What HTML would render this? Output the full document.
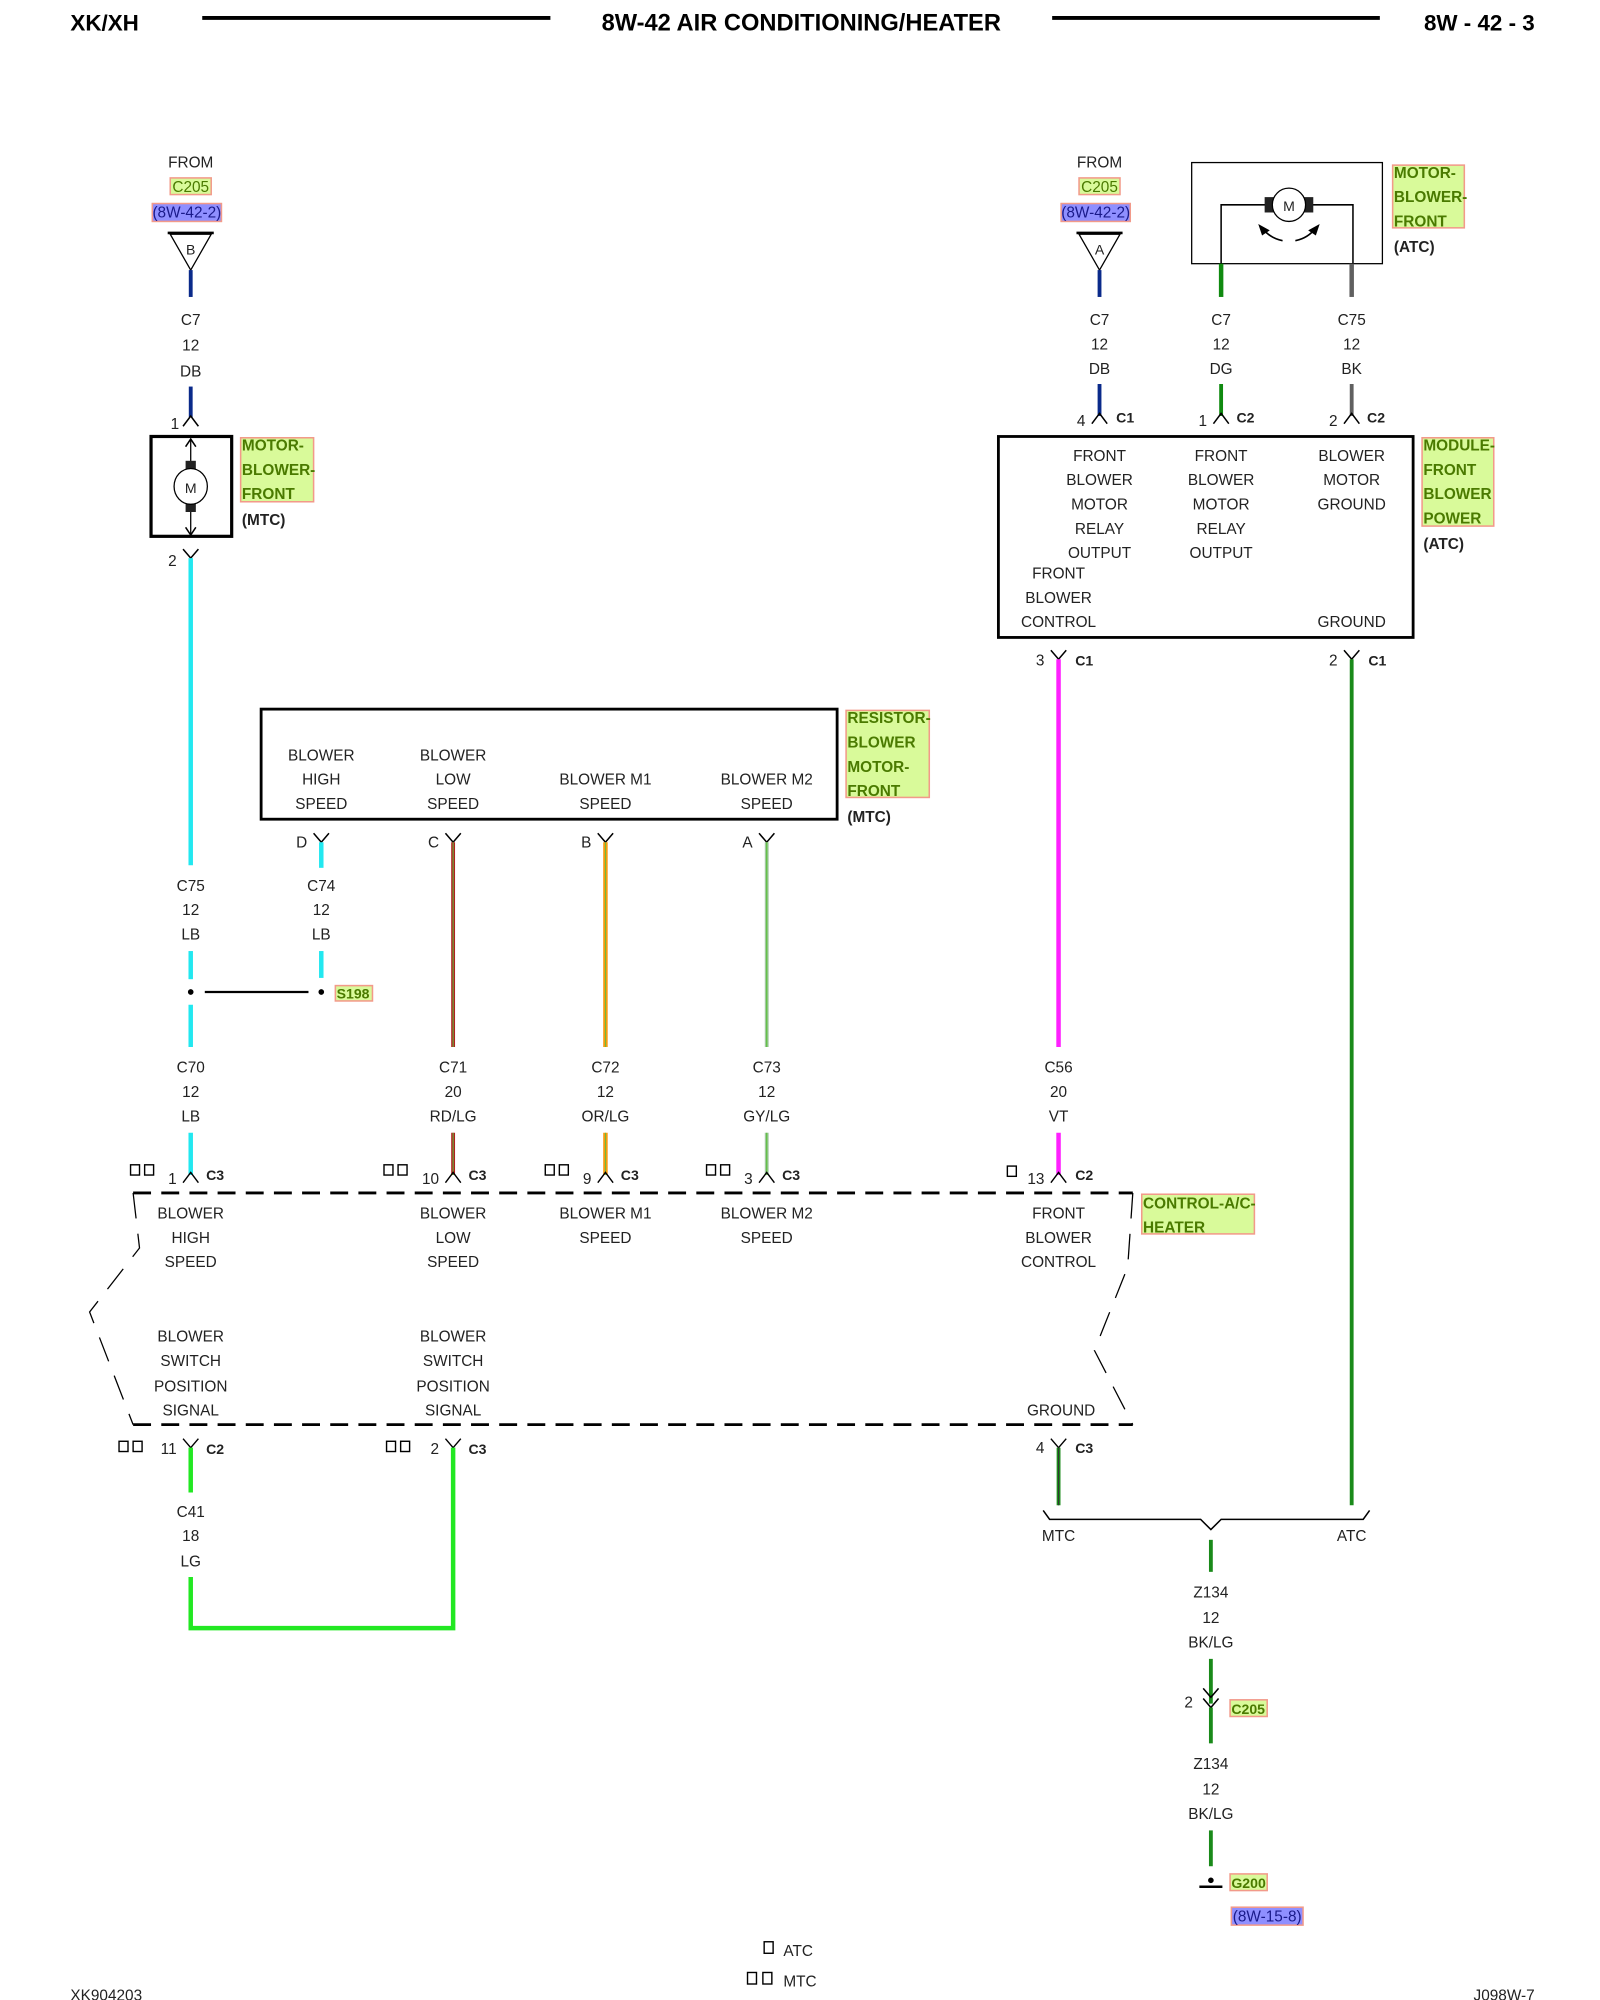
<!DOCTYPE html>
<html><head><meta charset="utf-8"><style>
html,body{margin:0;padding:0;background:#fff}
svg{display:block}
text{font-family:"Liberation Sans",Arial,sans-serif;font-size:12px;fill:#222}
.b{font-weight:bold}
.c{text-anchor:middle}
.r{text-anchor:end}
.hl{fill:#d9fa9a;stroke:#f29a8a;stroke-width:1.2}
.hb{fill:#8f8fff;stroke:#f29a8a;stroke-width:1.2}
.gt{fill:#4a7a00;font-weight:bold}
.bt{fill:#1a1a8a}
.k{fill:none;stroke:#000;stroke-width:1.2}
</style></head><body>
<svg width="1600" height="2000" viewBox="0 0 1250 1562.5" xmlns="http://www.w3.org/2000/svg">
<!-- header -->
<text x="55" y="24" class="b" style="font-size:17.5px;fill:#000">XK/XH</text>
<line x1="158" y1="14" x2="430" y2="14" stroke="#000" stroke-width="3"/>
<text x="626" y="24" class="b c" style="font-size:18.5px;fill:#000">8W-42 AIR CONDITIONING/HEATER</text>
<line x1="822" y1="14" x2="1078" y2="14" stroke="#000" stroke-width="3"/>
<text x="1199" y="24" class="b r" style="font-size:17.5px;fill:#000">8W - 42 - 3</text>

<!-- LEFT TOP -->
<text x="149" y="131" class="c">FROM</text>
<rect x="133" y="139" width="32" height="13" class="hl"/><text x="149" y="150" class="c gt" style="font-weight:normal">C205</text>
<rect x="119" y="159" width="54" height="14" class="hb"/><text x="146" y="170" class="c bt">(8W-42-2)</text>
<line x1="131" y1="182" x2="167" y2="182" stroke="#000" stroke-width="2"/>
<polygon points="133,183 165,183 149,211" fill="none" stroke="#000"/>
<text x="149" y="199" class="c" style="font-size:11px">B</text>
<line x1="149" y1="211" x2="149" y2="232" stroke="#0a2a8a" stroke-width="3"/>
<text x="149" y="254" class="c">C7</text><text x="149" y="274" class="c">12</text><text x="149" y="294" class="c">DB</text>
<line x1="149" y1="302" x2="149" y2="326" stroke="#0a2a8a" stroke-width="3"/>
<text x="140" y="335" class="r">1</text><polyline points="143,333 149,325 155,333" class="k"/>
<rect x="118" y="341" width="63" height="78" fill="none" stroke="#000" stroke-width="2.5"/>
<line x1="149" y1="343" x2="149" y2="418" stroke="#000"/>
<polyline points="145,349 149,343 153,349" class="k"/><polyline points="145,412 149,418 153,412" class="k"/>
<rect x="145" y="360" width="8" height="7" fill="#222"/><rect x="145" y="393" width="8" height="7" fill="#222"/>
<ellipse cx="149" cy="380" rx="13" ry="14" fill="#fff" stroke="#000"/>
<text x="149" y="385" class="c" style="font-size:11px">M</text>
<rect x="188" y="342" width="57" height="50" class="hl"/>
<text x="189" y="352" class="gt">MOTOR-</text><text x="189" y="371" class="gt">BLOWER-</text><text x="189" y="390" class="gt">FRONT</text>
<text x="189" y="410" class="b">(MTC)</text>
<text x="138" y="442" class="r">2</text><polyline points="143,429 149,436 155,429" class="k"/>
<line x1="149" y1="436" x2="149" y2="676" stroke="#22e8f0" stroke-width="3.5"/>
<text x="149" y="696" class="c">C75</text><text x="149" y="715" class="c">12</text><text x="149" y="734" class="c">LB</text>
<line x1="149" y1="743" x2="149" y2="765" stroke="#22e8f0" stroke-width="3.5"/>
<circle cx="149" cy="775" r="2.2" fill="#000"/>
<line x1="160" y1="775" x2="241" y2="775" stroke="#000" stroke-width="1.8"/>
<circle cx="251" cy="775" r="2.2" fill="#000"/>
<rect x="262" y="770" width="29" height="12" class="hl"/><text x="263" y="780" class="gt" style="font-size:11px">S198</text>
<line x1="149" y1="785" x2="149" y2="818" stroke="#22e8f0" stroke-width="3.5"/>
<text x="149" y="838" class="c">C70</text><text x="149" y="857" class="c">12</text><text x="149" y="876" class="c">LB</text>
<line x1="149" y1="885" x2="149" y2="918" stroke="#22e8f0" stroke-width="3.5"/>

<!-- RESISTOR -->
<rect x="204" y="554" width="450" height="86" fill="none" stroke="#000" stroke-width="2.2"/>
<text x="251" y="594" class="c">BLOWER</text><text x="251" y="613" class="c">HIGH</text><text x="251" y="632" class="c">SPEED</text>
<text x="354" y="594" class="c">BLOWER</text><text x="354" y="613" class="c">LOW</text><text x="354" y="632" class="c">SPEED</text>
<text x="473" y="613" class="c">BLOWER M1</text><text x="473" y="632" class="c">SPEED</text>
<text x="599" y="613" class="c">BLOWER M2</text><text x="599" y="632" class="c">SPEED</text>
<rect x="661" y="555" width="65" height="68" class="hl"/>
<text x="662" y="565" class="gt">RESISTOR-</text><text x="662" y="584" class="gt">BLOWER</text><text x="662" y="603" class="gt">MOTOR-</text><text x="662" y="622" class="gt">FRONT</text>
<text x="662" y="642" class="b">(MTC)</text>
<text x="240" y="662" class="r">D</text><polyline points="245,651 251,658 257,651" class="k"/>
<text x="343" y="662" class="r">C</text><polyline points="348,651 354,658 360,651" class="k"/>
<text x="462" y="662" class="r">B</text><polyline points="467,651 473,658 479,651" class="k"/>
<text x="588" y="662" class="r">A</text><polyline points="593,651 599,658 605,651" class="k"/>
<line x1="251" y1="658" x2="251" y2="678" stroke="#22e8f0" stroke-width="3.5"/>
<text x="251" y="696" class="c">C74</text><text x="251" y="715" class="c">12</text><text x="251" y="734" class="c">LB</text>
<line x1="251" y1="743" x2="251" y2="764" stroke="#22e8f0" stroke-width="3.5"/>
<line x1="354" y1="658" x2="354" y2="818" stroke="#b02020" stroke-width="3"/><line x1="354" y1="658" x2="354" y2="818" stroke="#60c040" stroke-width="0.8"/>
<line x1="473" y1="658" x2="473" y2="818" stroke="#f59a10" stroke-width="3.5"/><line x1="473" y1="658" x2="473" y2="818" stroke="#60c040" stroke-width="0.7"/>
<line x1="599" y1="658" x2="599" y2="818" stroke="#a0c8a0" stroke-width="3"/><line x1="599" y1="658" x2="599" y2="818" stroke="#60c040" stroke-width="1"/>
<text x="354" y="838" class="c">C71</text><text x="354" y="857" class="c">20</text><text x="354" y="876" class="c">RD/LG</text>
<text x="473" y="838" class="c">C72</text><text x="473" y="857" class="c">12</text><text x="473" y="876" class="c">OR/LG</text>
<text x="599" y="838" class="c">C73</text><text x="599" y="857" class="c">12</text><text x="599" y="876" class="c">GY/LG</text>
<line x1="354" y1="885" x2="354" y2="918" stroke="#b02020" stroke-width="3"/><line x1="354" y1="885" x2="354" y2="918" stroke="#60c040" stroke-width="0.8"/>
<line x1="473" y1="885" x2="473" y2="918" stroke="#f59a10" stroke-width="3.5"/><line x1="473" y1="885" x2="473" y2="918" stroke="#60c040" stroke-width="0.7"/>
<line x1="599" y1="885" x2="599" y2="918" stroke="#a0c8a0" stroke-width="3"/><line x1="599" y1="885" x2="599" y2="918" stroke="#60c040" stroke-width="1"/>

<!-- RIGHT TOP -->
<text x="859" y="131" class="c">FROM</text>
<rect x="843" y="139" width="32" height="13" class="hl"/><text x="859" y="150" class="c gt" style="font-weight:normal">C205</text>
<rect x="829" y="159" width="54" height="14" class="hb"/><text x="856" y="170" class="c bt">(8W-42-2)</text>
<line x1="841" y1="182" x2="877" y2="182" stroke="#000" stroke-width="2"/>
<polygon points="843,183 875,183 859,211" fill="none" stroke="#000"/>
<text x="859" y="199" class="c" style="font-size:11px">A</text>
<line x1="859" y1="211" x2="859" y2="232" stroke="#0a2a8a" stroke-width="3"/>
<rect x="931" y="127" width="149" height="79" fill="none" stroke="#000"/>
<polyline points="954,206 954,160 1057,160 1057,206" fill="none" stroke="#000" stroke-width="1.2"/>
<rect x="988" y="154" width="7" height="12" fill="#222"/><rect x="1019" y="154" width="7" height="12" fill="#222"/>
<circle cx="1007" cy="160" r="13" fill="#fff" stroke="#000"/>
<text x="1007" y="165" class="c" style="font-size:11px">M</text>
<path d="M1002,188 Q992,186 986,178" fill="none" stroke="#000" stroke-width="1.3"/><polygon points="983,175 992,180 986,184" fill="#000"/>
<path d="M1012,188 Q1022,186 1028,178" fill="none" stroke="#000" stroke-width="1.3"/><polygon points="1031,175 1022,180 1028,184" fill="#000"/>
<line x1="954" y1="206" x2="954" y2="232" stroke="#108a10" stroke-width="3.5"/>
<line x1="1056" y1="206" x2="1056" y2="232" stroke="#606060" stroke-width="3.5"/>
<rect x="1088" y="129" width="56" height="49" class="hl"/>
<text x="1089" y="139" class="gt">MOTOR-</text><text x="1089" y="158" class="gt">BLOWER-</text><text x="1089" y="177" class="gt">FRONT</text>
<text x="1089" y="197" class="b">(ATC)</text>
<text x="859" y="254" class="c">C7</text><text x="859" y="273" class="c">12</text><text x="859" y="292" class="c">DB</text>
<text x="954" y="254" class="c">C7</text><text x="954" y="273" class="c">12</text><text x="954" y="292" class="c">DG</text>
<text x="1056" y="254" class="c">C75</text><text x="1056" y="273" class="c">12</text><text x="1056" y="292" class="c">BK</text>
<line x1="859" y1="300" x2="859" y2="325" stroke="#0a2a8a" stroke-width="3"/>
<line x1="954" y1="300" x2="954" y2="325" stroke="#108a10" stroke-width="3"/>
<line x1="1056" y1="300" x2="1056" y2="325" stroke="#606060" stroke-width="3"/>
<text x="848" y="333" class="r">4</text><polyline points="853,331 859,323 865,331" class="k"/><text x="872" y="330" class="b" style="font-size:11px">C1</text>
<text x="943" y="333" class="r">1</text><polyline points="948,331 954,323 960,331" class="k"/><text x="966" y="330" class="b" style="font-size:11px">C2</text>
<text x="1045" y="333" class="r">2</text><polyline points="1050,331 1056,323 1062,331" class="k"/><text x="1068" y="330" class="b" style="font-size:11px">C2</text>
<rect x="780" y="341" width="324" height="157" fill="none" stroke="#000" stroke-width="2.2"/>
<text x="859" y="360" class="c">FRONT</text><text x="859" y="379" class="c">BLOWER</text><text x="859" y="398" class="c">MOTOR</text><text x="859" y="417" class="c">RELAY</text><text x="859" y="436" class="c">OUTPUT</text>
<text x="954" y="360" class="c">FRONT</text><text x="954" y="379" class="c">BLOWER</text><text x="954" y="398" class="c">MOTOR</text><text x="954" y="417" class="c">RELAY</text><text x="954" y="436" class="c">OUTPUT</text>
<text x="1056" y="360" class="c">BLOWER</text><text x="1056" y="379" class="c">MOTOR</text><text x="1056" y="398" class="c">GROUND</text>
<text x="827" y="452" class="c">FRONT</text><text x="827" y="471" class="c">BLOWER</text><text x="827" y="490" class="c">CONTROL</text>
<text x="1056" y="490" class="c">GROUND</text>
<rect x="1111" y="342" width="56" height="69" class="hl"/>
<text x="1112" y="352" class="gt">MODULE-</text><text x="1112" y="371" class="gt">FRONT</text><text x="1112" y="390" class="gt">BLOWER</text><text x="1112" y="409" class="gt">POWER</text>
<text x="1112" y="429" class="b">(ATC)</text>
<text x="816" y="520" class="r">3</text><polyline points="821,508 827,515 833,508" class="k"/><text x="840" y="520" class="b" style="font-size:11px">C1</text>
<text x="1045" y="520" class="r">2</text><polyline points="1050,508 1056,515 1062,508" class="k"/><text x="1069" y="520" class="b" style="font-size:11px">C1</text>
<line x1="827" y1="515" x2="827" y2="818" stroke="#ff20ff" stroke-width="3.5"/>
<line x1="1056" y1="515" x2="1056" y2="1176" stroke="#1a8a1a" stroke-width="3"/>
<text x="827" y="838" class="c">C56</text><text x="827" y="857" class="c">20</text><text x="827" y="876" class="c">VT</text>
<line x1="827" y1="885" x2="827" y2="918" stroke="#ff20ff" stroke-width="3.5"/>

<!-- top connectors on control -->
<g fill="none" stroke="#000" stroke-width="1.1">
<rect x="102" y="910" width="7" height="8"/><rect x="113" y="910" width="7" height="8"/>
<rect x="300" y="910" width="7" height="8"/><rect x="311" y="910" width="7" height="8"/>
<rect x="426" y="910" width="7" height="8"/><rect x="437" y="910" width="7" height="8"/>
<rect x="552" y="910" width="7" height="8"/><rect x="563" y="910" width="7" height="8"/>
<rect x="787" y="911" width="7" height="8"/>
<polyline points="143,924 149,916 155,924"/><polyline points="348,924 354,916 360,924"/>
<polyline points="467,924 473,916 479,924"/><polyline points="593,924 599,916 605,924"/>
<polyline points="821,924 827,916 833,924"/>
</g>
<text x="138" y="925" class="r">1</text><text x="161" y="922" class="b" style="font-size:11px">C3</text>
<text x="343" y="925" class="r">10</text><text x="366" y="922" class="b" style="font-size:11px">C3</text>
<text x="462" y="925" class="r">9</text><text x="485" y="922" class="b" style="font-size:11px">C3</text>
<text x="588" y="925" class="r">3</text><text x="611" y="922" class="b" style="font-size:11px">C3</text>
<text x="816" y="925" class="r">13</text><text x="840" y="922" class="b" style="font-size:11px">C2</text>

<!-- CONTROL dashed box -->
<g fill="none" stroke="#000" stroke-width="2.2" stroke-dasharray="14,8">
<line x1="104" y1="932" x2="885" y2="932"/><line x1="104" y1="1113" x2="885" y2="1113"/>
</g>
<g fill="none" stroke="#000" stroke-width="1" stroke-dasharray="20,12">
<polyline points="104,932 109,975 70,1025 104,1113"/>
<polyline points="885,932 881,990 855,1055 885,1113"/>
</g>
<rect x="892" y="933" width="88" height="31" class="hl"/>
<text x="893" y="944" class="gt">CONTROL-A/C-</text><text x="893" y="963" class="gt">HEATER</text>
<text x="149" y="952" class="c">BLOWER</text><text x="149" y="971" class="c">HIGH</text><text x="149" y="990" class="c">SPEED</text>
<text x="354" y="952" class="c">BLOWER</text><text x="354" y="971" class="c">LOW</text><text x="354" y="990" class="c">SPEED</text>
<text x="473" y="952" class="c">BLOWER M1</text><text x="473" y="971" class="c">SPEED</text>
<text x="599" y="952" class="c">BLOWER M2</text><text x="599" y="971" class="c">SPEED</text>
<text x="827" y="952" class="c">FRONT</text><text x="827" y="971" class="c">BLOWER</text><text x="827" y="990" class="c">CONTROL</text>
<text x="149" y="1048" class="c">BLOWER</text><text x="149" y="1067" class="c">SWITCH</text><text x="149" y="1087" class="c">POSITION</text><text x="149" y="1106" class="c">SIGNAL</text>
<text x="354" y="1048" class="c">BLOWER</text><text x="354" y="1067" class="c">SWITCH</text><text x="354" y="1087" class="c">POSITION</text><text x="354" y="1106" class="c">SIGNAL</text>
<text x="829" y="1106" class="c">GROUND</text>

<!-- bottom connectors -->
<g fill="none" stroke="#000" stroke-width="1.1">
<rect x="93" y="1126" width="7" height="8"/><rect x="104" y="1126" width="7" height="8"/>
<rect x="302" y="1126" width="7" height="8"/><rect x="313" y="1126" width="7" height="8"/>
<polyline points="143,1124 149,1131 155,1124"/><polyline points="348,1124 354,1131 360,1124"/>
<polyline points="821,1124 827,1131 833,1124"/>
</g>
<text x="138" y="1136" class="r">11</text><text x="161" y="1136" class="b" style="font-size:11px">C2</text>
<text x="343" y="1136" class="r">2</text><text x="366" y="1136" class="b" style="font-size:11px">C3</text>
<text x="816" y="1135" class="r">4</text><text x="840" y="1135" class="b" style="font-size:11px">C3</text>
<line x1="149" y1="1131" x2="149" y2="1166" stroke="#22e822" stroke-width="3.5"/>
<text x="149" y="1185" class="c">C41</text><text x="149" y="1204" class="c">18</text><text x="149" y="1224" class="c">LG</text>
<polyline points="149,1232 149,1272 354,1272 354,1131" fill="none" stroke="#22e822" stroke-width="3.5"/>
<line x1="827" y1="1131" x2="827" y2="1176" stroke="#1a8a1a" stroke-width="3"/><line x1="827" y1="1131" x2="827" y2="1176" stroke="#333" stroke-width="0.8"/>
<polyline points="815,1180 820,1187 938,1187 946,1195 954,1187 1065,1187 1070,1180" fill="none" stroke="#000" stroke-width="1.2"/>
<text x="827" y="1204" class="c">MTC</text><text x="1056" y="1204" class="c">ATC</text>
<line x1="946" y1="1203" x2="946" y2="1228" stroke="#1a8a1a" stroke-width="3"/>
<text x="946" y="1248" class="c">Z134</text><text x="946" y="1268" class="c">12</text><text x="946" y="1287" class="c">BK/LG</text>
<line x1="946" y1="1296" x2="946" y2="1331" stroke="#1a8a1a" stroke-width="3"/>
<polyline points="940,1319 946,1326 952,1319" class="k"/><polyline points="940,1327 946,1334 952,1327" class="k"/>
<text x="932" y="1334" class="r">2</text>
<rect x="961" y="1328" width="29" height="13" class="hl"/><text x="962" y="1339" class="gt" style="font-size:11px">C205</text>
<line x1="946" y1="1334" x2="946" y2="1362" stroke="#1a8a1a" stroke-width="3"/>
<text x="946" y="1382" class="c">Z134</text><text x="946" y="1402" class="c">12</text><text x="946" y="1421" class="c">BK/LG</text>
<line x1="946" y1="1430" x2="946" y2="1458" stroke="#1a8a1a" stroke-width="3"/>
<line x1="937" y1="1474" x2="955" y2="1474" stroke="#000" stroke-width="2"/><circle cx="946" cy="1469" r="2.2" fill="#000"/>
<rect x="961" y="1464" width="29" height="13" class="hl"/><text x="962" y="1475" class="gt" style="font-size:11px">G200</text>
<rect x="962" y="1490" width="56" height="14" class="hb"/><text x="990" y="1501" class="c bt">(8W-15-8)</text>

<!-- legend & footer -->
<rect x="597" y="1517" width="7" height="9" fill="none" stroke="#000" stroke-width="1.1"/><text x="612" y="1528">ATC</text>
<rect x="584" y="1541" width="7" height="9" fill="none" stroke="#000" stroke-width="1.1"/><rect x="596" y="1541" width="7" height="9" fill="none" stroke="#000" stroke-width="1.1"/><text x="612" y="1552">MTC</text>
<text x="55" y="1563">XK904203</text>
<text x="1199" y="1563" class="r">J098W-7</text>
</svg>
</body></html>
